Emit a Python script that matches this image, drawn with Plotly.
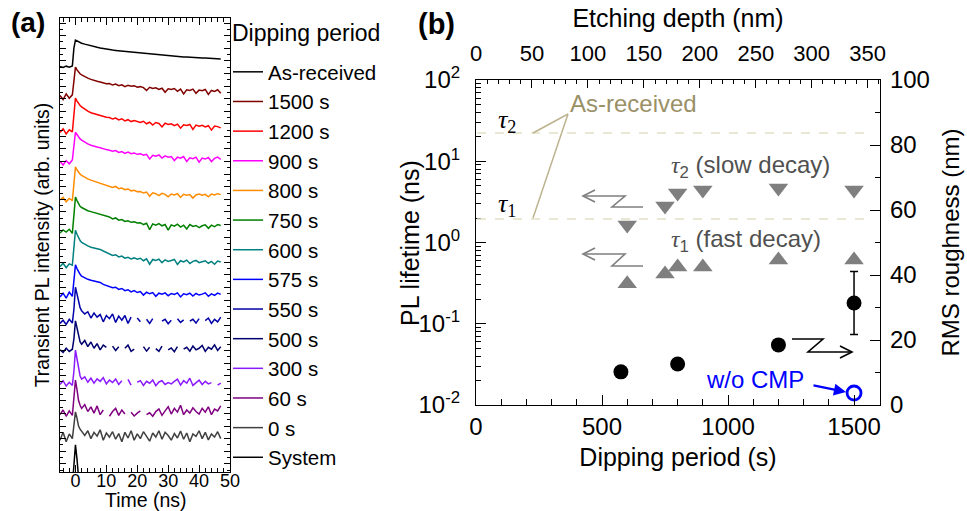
import math
import plotly.graph_objects as go

# ---------------- panel (a): transient PL traces (arb. units, baseline ~ 0) ----------------
TIME_NS = [-5, -4, -3, -2, -1, -0.5, 0, 0.5, 1, 1.5,
           2, 3, 4, 5, 6, 7, 8, 9, 10,
           11, 12, 13, 14, 15, 16, 17, 18, 19, 20,
           21, 22, 23, 24, 25, 26, 27, 28, 29, 30,
           31, 32, 33, 34, 35, 36, 37, 38, 39, 40,
           41, 42, 43, 44, 45, 46, 47]

PL_AS_RECEIVED = [0.02, -0.01, 0.03, 0.00, 0.04, 0.60, 0.86, 0.83, 0.80, 0.78,
                  0.76, 0.73, 0.70, 0.67, 0.65, 0.63, 0.61, 0.59, 0.56,
                  0.55, 0.54, 0.53, 0.52, 0.51, 0.50, 0.49, 0.48, 0.47, 0.45,
                  0.44, 0.43, 0.43, 0.41, 0.40, 0.39, 0.38, 0.37, 0.36, 0.35,
                  0.35, 0.34, 0.33, 0.33, 0.32, 0.32, 0.31, 0.31, 0.30, 0.30,
                  0.29, 0.29, 0.28, 0.28, 0.27, 0.27, 0.26]
PL_1500 = [0.05, -0.08, 0.10, -0.04, 0.07, 0.55, 0.95, 0.86, 0.79, 0.74,
           0.70, 0.64, 0.60, 0.56, 0.52, 0.50, 0.48, 0.44, 0.42,
           0.43, 0.38, 0.41, 0.36, 0.39, 0.33, 0.37, 0.34, 0.36, 0.31,
           0.33, 0.30, 0.21, 0.31, 0.27, 0.29, 0.24, 0.28, 0.15, 0.26,
           0.24, 0.27, 0.18, 0.25, 0.10, 0.23, 0.21, 0.25, 0.12, 0.22,
           0.20, 0.24, 0.08, 0.21, 0.18, 0.23, 0.12]
PL_1200 = [-0.02, 0.10, -0.06, 0.07, 0.00, 0.60, 1.08, 0.98, 0.90, 0.84,
           0.80, 0.72, 0.66, 0.61, 0.58, 0.55, 0.53, 0.50, 0.47,
           0.46, 0.41, 0.44, 0.38, 0.42, 0.35, 0.39, 0.33, 0.36, 0.32,
           0.30, 0.34, 0.26, 0.31, 0.22, 0.30, 0.27, 0.16, 0.28, 0.24,
           0.26, 0.20, 0.25, 0.12, 0.23, 0.21, 0.24, 0.08, 0.22, 0.18,
           0.21, 0.16, 0.20, 0.06, 0.19, 0.17, 0.13]
PL_900 = [0.03, -0.09, 0.05, -0.05, 0.07, 0.55, 0.95, 0.88, 0.80, 0.74,
          0.70, 0.63, 0.58, 0.54, 0.50, 0.48, 0.46, 0.42, 0.40,
          0.38, 0.35, 0.37, 0.31, 0.34, 0.28, 0.32, 0.27, 0.29, 0.25,
          0.27, 0.22, 0.25, 0.10, 0.22, 0.19, 0.23, 0.13, 0.20, 0.16,
          0.18, 0.05, 0.16, 0.13, 0.18, 0.02, 0.14, 0.11, 0.16, 0.00,
          0.13, 0.10, 0.15, 0.02, 0.12, 0.16, 0.09]
PL_800 = [0.00, 0.08, -0.06, 0.05, -0.02, 0.60, 1.05, 0.96, 0.88, 0.82,
          0.78, 0.72, 0.67, 0.63, 0.60, 0.57, 0.54, 0.50, 0.47,
          0.45, 0.40, 0.43, 0.36, 0.38, 0.33, 0.35, 0.29, 0.31, 0.26,
          0.27, 0.22, 0.25, 0.12, 0.23, 0.20, 0.14, 0.21, 0.18, 0.10,
          0.19, 0.16, 0.20, 0.08, 0.18, 0.15, 0.17, 0.06, 0.16, 0.19,
          0.15, 0.18, 0.10, 0.19, 0.16, 0.20, 0.17]
PL_750 = [-0.03, 0.07, 0.00, 0.09, -0.04, 0.65, 1.11, 1.00, 0.90, 0.82,
          0.78, 0.72, 0.68, 0.65, 0.62, 0.60, 0.58, 0.54, 0.50,
          0.48, 0.42, 0.45, 0.38, 0.40, 0.34, 0.36, 0.31, 0.33, 0.29,
          0.30, 0.24, 0.28, 0.08, 0.26, 0.22, 0.27, 0.20, 0.24, 0.06,
          0.23, 0.19, 0.25, 0.16, 0.22, 0.10, 0.24, 0.18, 0.21, 0.14,
          0.20, 0.23, 0.12, 0.22, 0.17, 0.24, 0.21]
PL_600 = [-0.05, 0.06, -0.08, 0.04, 0.00, 0.60, 1.11, 0.98, 0.86, 0.78,
          0.72, 0.66, 0.61, 0.57, 0.55, 0.52, 0.50, 0.45, 0.40,
          0.36, 0.31, 0.33, 0.26, 0.29, 0.22, 0.25, 0.20, 0.23, 0.19,
          0.22, 0.14, 0.20, 0.03, 0.18, 0.15, 0.19, 0.08, 0.17, 0.12,
          0.15, 0.18, 0.02, 0.14, 0.10, 0.16, 0.05, 0.12, 0.15, 0.08,
          0.11, 0.14, 0.06, 0.12, 0.03, 0.13, 0.10]
PL_575 = [0.00, 0.12, -0.04, 0.15, 0.02, 0.55, 1.02, 0.90, 0.80, 0.72,
          0.66, 0.60, 0.56, 0.53, 0.50, 0.48, 0.46, 0.40, 0.36,
          0.33, 0.29, 0.31, 0.24, 0.27, 0.20, 0.23, 0.16, 0.20, 0.14,
          0.17, 0.06, 0.15, 0.10, 0.14, 0.02, 0.12, 0.09, 0.13, 0.04,
          0.11, 0.08, 0.13, 0.00, 0.10, 0.07, 0.12, 0.03, 0.11, 0.06,
          0.09, 0.13, 0.02, 0.10, 0.05, 0.12, 0.08]
PL_550 = [0.05, 0.15, 0.02, 0.18, 0.06, 0.50, 1.20, 0.95, 0.70, 0.55,
          0.45, 0.35, 0.42, 0.22, 0.38, 0.25, 0.33, 0.10, 0.30,
          0.20, 0.35, 0.08, 0.28, 0.15, 0.30, 0.05, 0.25, None, 0.22,
          0.10, None, 0.18, 0.05, 0.20, None, None, 0.12, 0.18, 0.04,
          0.15, None, 0.20, 0.08, 0.16, None, 0.12, 0.18, 0.06, 0.20,
          None, 0.14, 0.22, 0.05, 0.18, 0.10, 0.25]
PL_500 = [0.10, 0.02, 0.15, 0.05, 0.12, 0.45, 1.02, 0.80, 0.50, 0.35,
          0.28, 0.40, 0.20, 0.35, 0.15, 0.30, 0.10, 0.25, 0.18,
          None, 0.22, 0.08, 0.20, None, 0.15, 0.25, 0.05, 0.12, None,
          None, 0.20, 0.06, 0.18, None, 0.14, 0.05, 0.22, None, 0.10,
          0.16, 0.04, 0.20, None, 0.12, 0.18, 0.06, 0.22, 0.10, 0.15,
          0.24, 0.05, 0.18, 0.12, 0.26, 0.08, 0.20]
PL_300 = [0.08, 0.20, 0.03, 0.15, 0.05, 0.50, 1.17, 0.90, 0.55, 0.35,
          0.25, 0.32, 0.15, 0.28, 0.12, 0.26, 0.18, 0.30, 0.10,
          0.22, 0.14, 0.25, 0.08, 0.20, None, 0.24, 0.06, None, 0.15,
          0.20, 0.05, 0.18, 0.12, 0.22, 0.04, 0.16, 0.20, 0.08, 0.14,
          0.10, 0.18, 0.25, 0.06, 0.20, 0.12, 0.28, 0.05, 0.15, 0.22,
          0.08, 0.18, 0.10, 0.14, None, 0.06, 0.12]
PL_60 = [0.10, 0.25, 0.05, 0.22, 0.08, 0.55, 1.20, 0.90, 0.55, 0.40,
         0.30, 0.42, 0.20, 0.35, 0.15, 0.38, 0.10, 0.25, None,
         0.05, 0.20, 0.30, 0.08, 0.25, 0.12, None, 0.18, 0.06, 0.15,
         0.22, None, 0.10, 0.16, 0.05, 0.20, 0.28, 0.08, 0.22, 0.35,
         0.12, 0.30, 0.18, 0.40, 0.10, 0.25, 0.15, 0.32, 0.20, 0.12,
         0.30, 0.18, 0.35, 0.10, 0.28, 0.22, 0.38]
PL_0 = [0.15, 0.40, 0.10, 0.35, 0.20, 0.60, 1.05, 0.85, 0.60, 0.50,
        0.42, 0.30, 0.45, 0.20, 0.40, 0.28, 0.48, 0.15, 0.38,
        0.25, 0.42, 0.18, 0.36, 0.10, 0.40, 0.22, 0.45, 0.15, 0.35,
        0.20, 0.42, 0.28, 0.12, 0.38, 0.25, 0.45, 0.18, 0.40, 0.30,
        0.15, 0.36, 0.22, 0.44, 0.18, 0.38, 0.10, 0.35, 0.27, 0.45,
        0.20, 0.40, 0.16, 0.35, 0.25, 0.42, 0.20]
SYSTEM_TIME_NS = [-2, -1.5, -1, -0.5, 0, 0.5, 1, 1.5, 2]
PL_SYSTEM = [-0.6, -0.6, -0.3, 0.45, 1.0, 0.55, -0.2, -0.6, -0.6]

TRACE_LABELS = ["As-received", "1500 s", "1200 s", "900 s", "800 s", "750 s", "600 s",
                "575 s", "550 s", "500 s", "300 s", "60 s", "0 s", "System"]
TRACE_VALUES = [PL_AS_RECEIVED, PL_1500, PL_1200, PL_900, PL_800, PL_750, PL_600,
                PL_575, PL_550, PL_500, PL_300, PL_60, PL_0, PL_SYSTEM]

# ---------------- panel (b) ----------------
DIP_TAU_S = [600, 750, 800, 900, 1200, 1500]
TAU2_NS = [1.64, 2.81, 4.07, 4.43, 4.69, 4.43]
TAU1_NS = [0.31, 0.41, 0.50, 0.50, 0.61, 0.61]
DIP_RMS_S = [575, 800, 1200, 1500]
RMS_NM = [10.2, 12.6, 18.5, 31.4]
RMS_ERR_NM = [0, 0, 0, 9.7]
DIP_NOCMP_S = [1500]
RMS_NOCMP_NM = [3.7]
AS_RECEIVED_TAU_NS = [1.95, 22.3]   # tau1, tau2 of the as-received sample

# ---------------- styling / layout ----------------
W, H = 967, 511
FONT = "Liberation Sans, Arial, sans-serif"
SERIF = "Liberation Serif, DejaVu Serif, serif"
TRACE_COLORS = ["#000000", "#800000", "#ff0000", "#ff00ff", "#ff8c00", "#008000", "#008080",
                "#0000ff", "#0000a8", "#00006e", "#8c1aff", "#800080", "#404040", "#000000"]
TRACE_OFFSETS = [13.0, 12.05, 10.94, 9.98, 8.78, 7.76, 6.71, 5.70, 4.81, 3.92, 2.84, 1.86, 1.0, 0.0]


def px(x):
    return x / W


def py(y):
    return 1 - y / H


fig = go.Figure()

for lab, vals, col, off in zip(TRACE_LABELS, TRACE_VALUES, TRACE_COLORS, TRACE_OFFSETS):
    t = SYSTEM_TIME_NS if lab == "System" else TIME_NS
    yv = [None if v is None else v + off for v in vals]
    fig.add_trace(go.Scatter(x=t, y=yv, mode="lines", name=lab, legendgroup=lab,
                             line=dict(color=col, width=1.5), connectgaps=False,
                             xaxis="x", yaxis="y", hoverinfo="skip"))

GRAY = "#7f7f7f"
fig.add_trace(go.Scatter(x=DIP_TAU_S, y=TAU2_NS, mode="markers", showlegend=False,
                         marker=dict(symbol="triangle-down", size=17, color=GRAY),
                         xaxis="x2", yaxis="y2"))
fig.add_trace(go.Scatter(x=DIP_TAU_S, y=TAU1_NS, mode="markers", showlegend=False,
                         marker=dict(symbol="triangle-up", size=17, color=GRAY),
                         xaxis="x2", yaxis="y2"))
fig.add_trace(go.Scatter(x=DIP_RMS_S, y=RMS_NM, mode="markers", showlegend=False,
                         marker=dict(symbol="circle", size=15, color="black"),
                         error_y=dict(type="data", array=RMS_ERR_NM, color="black",
                                      thickness=1.5, width=4),
                         xaxis="x2", yaxis="y3"))
fig.add_trace(go.Scatter(x=DIP_NOCMP_S, y=RMS_NOCMP_NM, mode="markers", showlegend=False,
                         marker=dict(symbol="circle-open", size=14, color="#0000ff",
                                     line=dict(width=2.8, color="#0000ff")),
                         xaxis="x2", yaxis="y3"))
# empty trace so that the top (etching depth) axis is laid out
fig.add_trace(go.Scatter(x=[], y=[], xaxis="x3", yaxis="y2", showlegend=False, hoverinfo="skip"))

shapes = []


def path_shape(points, color, width, dash="solid"):
    d = "M " + " L ".join(f"{px(x):.5f},{py(y):.5f}" for x, y in points)
    return dict(type="path", path=d, xref="paper", yref="paper",
                line=dict(color=color, width=width, dash=dash))


# as-received tau levels (dashed)
for tau in AS_RECEIVED_TAU_NS:
    shapes.append(dict(type="line", xref="paper", yref="y2", x0=px(477), x1=px(866),
                       y0=tau, y1=tau,
                       line=dict(color="#e3e0c8", width=1.5, dash="dash")))
OLIVE = "#9a9068"
shapes.append(path_shape([(533, 133), (568, 114)], "#bdb38e", 1.5))
shapes.append(path_shape([(533, 218), (568, 114)], "#bdb38e", 1.5))
# zig-zag arrows
shapes.append(path_shape([(583, 196), (625, 196), (612, 207), (643, 207)], GRAY, 1.6))
shapes.append(path_shape([(595, 190), (583, 196), (595, 202)], GRAY, 1.6))
shapes.append(path_shape([(583, 254), (625, 254), (612, 266), (643, 266)], GRAY, 1.6))
shapes.append(path_shape([(595, 248), (583, 254), (595, 260)], GRAY, 1.6))
shapes.append(path_shape([(792, 339), (823, 339), (808, 352), (852, 352)], "black", 1.6))
shapes.append(path_shape([(840, 346), (852, 352), (840, 358)], "black", 1.6))


def note(text, x, y, size, color="black", family=FONT, xanchor="left", angle=0):
    return dict(text=text, x=px(x), y=py(y), xref="paper", yref="paper", showarrow=False,
                xanchor=xanchor, yanchor="middle", textangle=angle,
                font=dict(size=size, family=family, color=color))


annotations = [
    note("<b>(a)</b>", 28, 22, 28, xanchor="center"),
    note("<b>(b)</b>", 436, 24, 29, xanchor="center"),
    note("Dipping period", 230, 33, 23),
    note("Time (ns)", 146, 500, 19.5, xanchor="center"),
    note("PL lifetime (ns)", 410, 243, 25, xanchor="center", angle=-90),
    note("As-received", 568, 103, 24, color=OLIVE),
    note("<i>τ</i><sub>2</sub>", 496, 121, 26, family=SERIF),
    note("<i>τ</i><sub>1</sub>", 496, 205, 26, family=SERIF),
    note("<span style='font-family:Liberation Serif'><i>τ</i></span><sub>2</sub> (slow decay)",
         669, 166, 24, color="#505050"),
    note("<span style='font-family:Liberation Serif'><i>τ</i></span><sub>1</sub> (fast decay)",
         669, 240, 24, color="#505050"),
    note("w/o CMP", 704, 379, 24, color="#0000ff"),
    dict(text="", x=px(846), y=py(392), xref="paper", yref="paper", showarrow=True,
         ax=-34, ay=-7, arrowhead=2, arrowsize=1.1, arrowwidth=2.2, arrowcolor="#0000ff"),
]

AX = dict(showgrid=False, zeroline=False, showline=True, linecolor="black", linewidth=1.2,
          ticks="inside", tickcolor="black")

MINOR_LOG = [m * 10.0 ** e for e in (-2, -1, 0, 1) for m in range(2, 10)]

fig.update_layout(
    width=W, height=H, margin=dict(l=0, r=0, t=0, b=0),
    paper_bgcolor="white", plot_bgcolor="white", template="none",
    font=dict(family=FONT, color="black"),
    showlegend=True,
    legend=dict(x=px(228), y=py(52), xanchor="left", yanchor="top",
                bgcolor="rgba(0,0,0,0)", borderwidth=0, itemwidth=30,
                font=dict(size=20.5, family=FONT), tracegroupgap=0),
    xaxis=dict(AX, domain=[px(60), px(230)], range=[-5, 50], anchor="y",
               tickvals=[0, 10, 20, 30, 40, 50], ticklen=7, mirror="ticks",
               minor=dict(dtick=2, ticks="inside", ticklen=4, tickcolor="black"),
               tickfont=dict(size=18), ticklabelstandoff=-8),
    yaxis=dict(AX, domain=[py(472), py(18)], range=[0.14, 14.56], anchor="x",
               dtick=0.4, tick0=0, ticklen=6, mirror="ticks", showticklabels=False,
               minor=dict(dtick=0.2, ticks="inside", ticklen=3, tickcolor="black"),
               title=dict(text="Transient PL intensity (arb. units)", font=dict(size=19.5), standoff=4)),
    xaxis2=dict(AX, domain=[px(476), px(880)], range=[0, 1603], anchor="y2",
                tickvals=[0, 500, 1000, 1500], ticklen=10,
                minor=dict(dtick=100, ticks="inside", ticklen=6, tickcolor="black"),
                tickfont=dict(size=24), ticklabelstandoff=0,
                title=dict(text="Dipping period (s)", font=dict(size=25), standoff=9)),
    yaxis2=dict(AX, domain=[py(405), py(80)], type="log", range=[-2, 2], anchor="x2",
                tickmode="array", tickvals=[0.01, 0.1, 1, 10, 100],
                ticktext=["10<sup>-2</sup>", "10<sup>-1</sup>", "10<sup>0</sup>",
                          "10<sup>1</sup>", "10<sup>2</sup>"],
                ticklen=10, tickfont=dict(size=24), ticklabelstandoff=10,
                minor=dict(tickmode="array", tickvals=MINOR_LOG, ticks="inside", ticklen=5,
                           tickcolor="black")),
    yaxis3=dict(AX, range=[0, 100], overlaying="y2", side="right", anchor="x2",
                dtick=20, ticklen=10, tickfont=dict(size=24), ticklabelstandoff=4,
                minor=dict(dtick=10, ticks="inside", ticklen=5, tickcolor="black"),
                title=dict(text="RMS roughness (nm)", font=dict(size=24), standoff=13)),
    xaxis3=dict(AX, range=[0, 361], overlaying="x2", side="top", anchor="y2",
                dtick=50, ticklen=8, tickfont=dict(size=22), ticklabelstandoff=9,
                minor=dict(dtick=10, ticks="inside", ticklen=4, tickcolor="black"),
                title=dict(text="Etching depth (nm)", font=dict(size=25), standoff=6)),
    shapes=shapes,
    annotations=annotations,
)

fig.write_html("out.html")
